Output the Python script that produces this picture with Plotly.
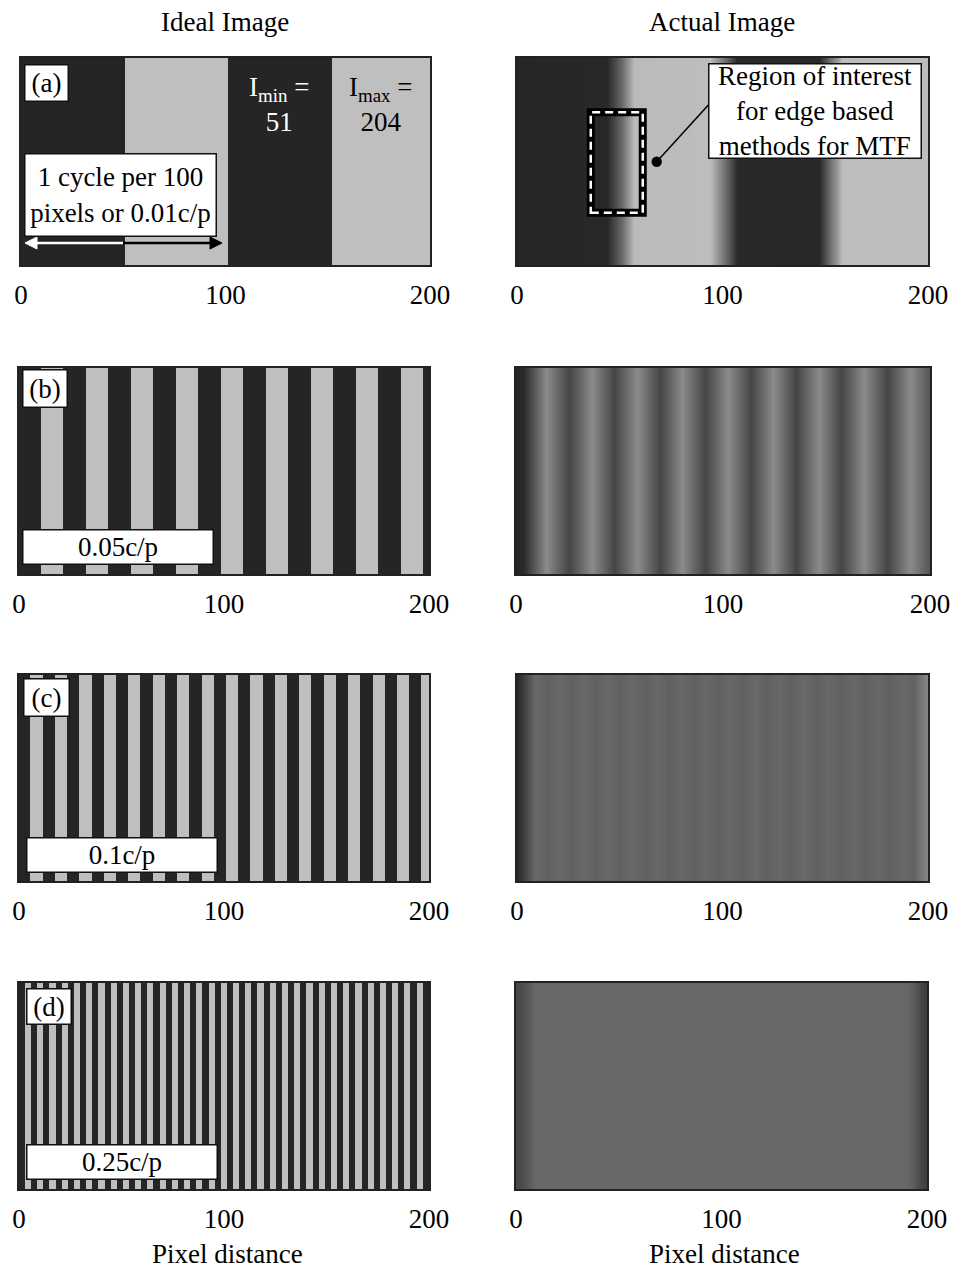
import plotly.graph_objects as go

W, H = 963, 1272

# ---------------- data ----------------
I_MIN, I_MAX = 51, 204
FREQ_LABELS = ["1 cycle per 100<br>pixels or 0.01c/p", "0.05c/p", "0.1c/p", "0.25c/p"]
PANEL_TAGS = ["(a)", "(b)", "(c)", "(d)"]
# measured bar period and start of first light bar (axis units) of the ideal gratings
IDEAL_PERIOD = [101.4, 21.95, 11.92, 5.97]
IDEAL_FIRST_LIGHT = [50.7, 10.6, 5.6, 2.9]

# intensity profiles of the "actual" (blurred) images
ACT_A_X = [0, 44, 47, 51, 54, 57, 94, 97.5, 101, 104.5, 107, 147, 149.5, 152.5, 155.5, 158, 200]
ACT_A_V = [52, 54, 84, 120, 160, 200, 202, 165, 125, 85, 55, 54, 85, 125, 165, 202, 202]

ACT_B_X = [0, 4, 14.5, 25.5, 36.5, 47.5, 58.4, 69.4, 80.4, 91.4, 102.3, 113.3, 124.3,
           135.3, 146.2, 157.2, 168.2, 179.2, 190.1, 200]
ACT_B_V = [50, 58, 152, 83, 152, 83, 152, 83, 152, 83, 152, 83, 152,
           83, 152, 83, 152, 83, 152, 98]

ACT_C_X = [0, 2.5, 6.5, 8.6, 14.5, 20.5, 26.4, 32.4, 38.3, 44.3, 50.2, 56.2, 62.1, 68.1,
           74.0, 80.0, 85.9, 91.9, 97.8, 103.8, 109.7, 115.7, 121.6, 127.6, 133.5, 139.5,
           145.4, 151.4, 157.3, 163.3, 169.2, 175.2, 181.1, 187.1, 193.0, 196.5, 200]
ACT_C_V = [54, 70, 102, 118, 110, 118, 110, 118, 110, 118, 110, 118, 110, 118,
           110, 118, 110, 118, 110, 118, 110, 118, 110, 118, 110, 118,
           110, 118, 110, 118, 110, 118, 110, 118, 112, 132, 150]

ACT_D_X = [0, 3, 6.5, 9, 190, 193.5, 197, 200]
ACT_D_V = [84, 90, 104, 118, 118, 104, 84, 74]

ACTUAL = [(ACT_A_X, ACT_A_V), (ACT_B_X, ACT_B_V), (ACT_C_X, ACT_C_V), (ACT_D_X, ACT_D_V)]

TICKS = [0, 100, 200]
COL_TITLES = ["Ideal Image", "Actual Image"]
X_TITLE = "Pixel distance"

# ---------------- layout geometry (pixels) ----------------
LEFT_X = [(21, 430), (19, 429), (19, 429), (19, 429)]
RIGHT_X = [(517, 928), (516, 930), (517, 928), (516, 927)]
ROW_Y = [(58, 265), (368, 574), (675, 881), (983, 1189)]

FONT = "Liberation Serif, Times New Roman, serif"
FS = 27
GRAYS = [[0, "#000000"], [0.2, "#252525"], [0.8, "#bfbfbf"], [1, "#ffffff"]]


def px(x):
    return x / W


def py(y):
    return 1 - y / H


def grating(period, first_light):
    edges, vals = [0.0], []
    cur, t = I_MIN, first_light
    while t < 200:
        vals.append(cur)
        edges.append(t)
        cur = I_MAX if cur == I_MIN else I_MIN
        t += period / 2
    vals.append(cur)
    edges.append(200.0)
    return edges, vals


fig = go.Figure()
layout = dict(width=W, height=H, margin=dict(l=0, r=0, t=0, b=0, pad=0), autosize=False,
              paper_bgcolor="white", plot_bgcolor="white", showlegend=False)

for r in range(4):
    for c in range(2):
        idx = 2 * r + c + 1
        xs = "" if idx == 1 else str(idx)
        x0, x1 = (LEFT_X if c == 0 else RIGHT_X)[r]
        y0, y1 = ROW_Y[r]
        if c == 0:
            e, v = grating(IDEAL_PERIOD[r], IDEAL_FIRST_LIGHT[r])
            fig.add_trace(go.Heatmap(x=e, y=[0, 100], z=[v], colorscale=GRAYS, zmin=0, zmax=255,
                                     showscale=False, hoverinfo="skip",
                                     xaxis="x" + xs, yaxis="y" + xs))
        else:
            ax_, av_ = ACTUAL[r]
            fig.add_trace(go.Heatmap(x=ax_, y=[0, 100], z=[av_, av_], colorscale=GRAYS,
                                     zmin=0, zmax=255, zsmooth="best", showscale=False,
                                     hoverinfo="skip", xaxis="x" + xs, yaxis="y" + xs))
        layout["xaxis" + xs] = dict(domain=[px(x0), px(x1)], range=[0, 200], tickvals=TICKS,
                                    ticks="outside", ticklen=5, tickcolor="rgba(0,0,0,0)",
                                    tickfont=dict(family=FONT, size=FS, color="black"),
                                    showline=True, mirror=True, linecolor="#222", linewidth=1.5,
                                    showgrid=False, zeroline=False, anchor="y" + xs,
                                    fixedrange=True, automargin=False)
        layout["yaxis" + xs] = dict(domain=[py(y1), py(y0)], range=[0, 100], showticklabels=False,
                                    ticks="", showline=True, mirror=True, linecolor="#222",
                                    linewidth=1.5, showgrid=False, zeroline=False,
                                    anchor="x" + xs, fixedrange=True, automargin=False)

ann = []
shapes = []
tf = dict(family=FONT, size=FS, color="black")


def box(text, left, top, w, h):
    ann.append(dict(text=text, xref="paper", yref="paper", x=px(left), y=py(top),
                    xanchor="left", yanchor="top", showarrow=False, font=tf,
                    bgcolor="white", bordercolor="#111", borderwidth=1.5, borderpad=0,
                    width=w - 3, height=h - 3, align="center", valign="middle"))


# column titles and axis titles
for txt, x, y, ya in [(COL_TITLES[0], 225, 22, "middle"), (COL_TITLES[1], 722, 22, "middle"),
                      (X_TITLE, 227, 1271, "bottom"), (X_TITLE, 724, 1271, "bottom")]:
    ann.append(dict(text=txt, xref="paper", yref="paper", x=px(x), y=py(y),
                    showarrow=False, font=tf, xanchor="center", yanchor=ya))

# panel tags and frequency boxes
tag_boxes = [(24, 64, 45, 38), (22, 369, 46, 39), (23, 678, 47, 39), (26, 988, 46, 37)]
freq_boxes = [(24, 153, 193, 84), (22, 529, 192, 36), (26, 837, 192, 36), (26, 1144, 192, 36)]
for r in range(4):
    box(PANEL_TAGS[r], *tag_boxes[r])
    box(FREQ_LABELS[r], *freq_boxes[r])


def arrow(x_tail, x_tip, y, color):
    d = 1 if x_tip > x_tail else -1
    hl, hw = 12, 6
    shapes.append(dict(type="line", xref="paper", yref="paper", x0=px(x_tail), y0=py(y),
                       x1=px(x_tip - d * hl * 0.6), y1=py(y), line=dict(color=color, width=2.5)))
    path = "M {} {} L {} {} L {} {} Z".format(px(x_tip), py(y), px(x_tip - d * hl), py(y - hw),
                                            px(x_tip - d * hl), py(y + hw))
    shapes.append(dict(type="path", xref="paper", yref="paper", path=path, fillcolor=color,
                       line=dict(color=color, width=1)))


# one-cycle double arrow in panel (a)
arrow(123, 25, 243, "white")
arrow(123, 222, 243, "black")

# Imin / Imax labels
ann.append(dict(text="I<sub>min</sub> =<br>51", xref="paper", yref="paper", x=px(279), y=py(105),
                showarrow=False, font=dict(family=FONT, size=FS, color="white"),
                xanchor="center", yanchor="middle", align="center"))
ann.append(dict(text="I<sub>max</sub> =<br>204", xref="paper", yref="paper", x=px(381), y=py(105),
                showarrow=False, font=dict(family=FONT, size=FS, color="black"),
                xanchor="center", yanchor="middle", align="center"))

# region of interest marker and callout (right panel a)
shapes += [
    dict(type="rect", xref="x2", yref="y2", x0=35.9, x1=61.2, y0=25.3, y1=73.8,
         line=dict(color="black", width=8)),
    dict(type="rect", xref="x2", yref="y2", x0=35.9, x1=61.2, y0=25.3, y1=73.8,
         line=dict(color="white", width=2.5, dash="8px,5px")),
    dict(type="line", xref="paper", yref="paper", x0=px(656.7), y0=py(161.7),
         x1=px(712), y1=py(101), line=dict(color="black", width=1.5)),
    dict(type="circle", xref="paper", yref="paper", x0=px(651.5), x1=px(661.9),
         y0=py(166.9), y1=py(156.5), fillcolor="black", line=dict(color="black", width=0)),
]
box("Region of interest<br>for edge based<br>methods for MTF", 708, 63, 214, 96)

layout["annotations"] = ann
layout["shapes"] = shapes

fig.update_layout(**layout)
post = ("document.documentElement.style.margin='0';document.body.style.margin='0';"
        "document.body.style.padding='0';document.documentElement.style.overflow='hidden';"
        "document.body.style.overflow='hidden';")
fig.write_html("out.html", config={"responsive": False, "displayModeBar": False},
               post_script=post)
